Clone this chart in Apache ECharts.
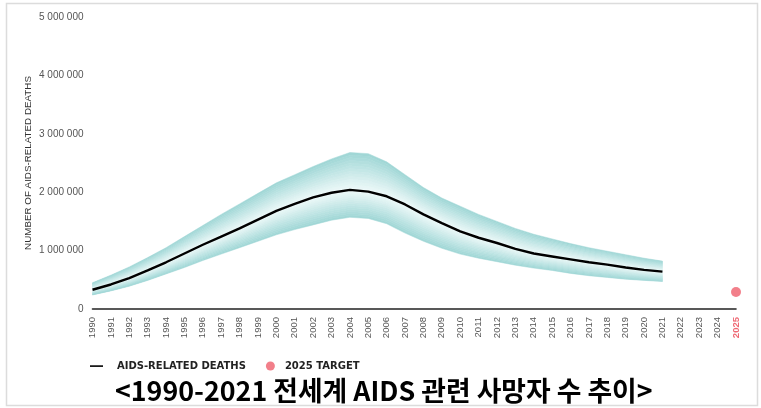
<!DOCTYPE html>
<html>
<head>
<meta charset="utf-8">
<script src="https://cdn.jsdelivr.net/npm/echarts@6/dist/echarts.min.js"></script>
<style>
  html, body { margin: 0; padding: 0; background: #fff; }
  #chart { width: 761px; height: 408px; }
</style>
</head>
<body>
<div id="chart"></div>
<script>
// years on the x axis (1990 - 2025)
const years = []
for (let y = 1990; y <= 2025; y++) years.push(String(y))

// AIDS-related deaths 1990-2021, central estimate
const deaths = [
  330000, 420000, 530000, 660000, 800000, 950000, 1100000, 1240000,
  1380000, 1530000, 1680000, 1800000, 1910000, 1990000, 2040000, 2010000,
  1930000, 1790000, 1620000, 1470000, 1330000, 1220000, 1130000, 1030000,
  950000, 900000, 850000, 800000, 760000, 710000, 670000, 640000
]
// uncertainty bounds
const upper = [
  450000, 580000, 720000, 880000, 1050000, 1240000, 1430000, 1620000,
  1800000, 1980000, 2160000, 2300000, 2440000, 2570000, 2680000, 2660000,
  2520000, 2300000, 2080000, 1900000, 1760000, 1620000, 1500000, 1380000,
  1280000, 1200000, 1120000, 1050000, 990000, 930000, 870000, 820000
]
const lower = [
  240000, 310000, 390000, 490000, 600000, 710000, 830000, 940000,
  1050000, 1160000, 1270000, 1360000, 1440000, 1520000, 1570000, 1550000,
  1460000, 1300000, 1160000, 1040000, 940000, 870000, 810000, 750000,
  700000, 660000, 610000, 570000, 540000, 510000, 490000, 470000
]
const target2025 = 290000
const yTicks = [0, 1000000, 2000000, 3000000, 4000000, 5000000]

// band shading: teal at the bounds, almost white along the estimate
const TEAL = [158, 214, 213]
const PALE = [240, 250, 250]
const STEPS = 14

const mix = (t) => {
  const c = TEAL.map((v, k) => Math.round(v + (PALE[k] - v) * t))
  return 'rgb(' + c.join(',') + ')'
}

const chart = echarts.init(document.getElementById('chart'))

// draws the band as nested strips between the estimate and each bound
const renderBand = (params, api) => {
  const children = []
  const strip = (bound, a, b) => {
    const pts = []
    for (let i = 0; i < deaths.length; i++) {
      pts.push(api.coord([i, deaths[i] + (bound[i] - deaths[i]) * a]))
    }
    for (let i = deaths.length - 1; i >= 0; i--) {
      pts.push(api.coord([i, deaths[i] + (bound[i] - deaths[i]) * b]))
    }
    return pts
  }
  for (let s = 0; s < STEPS; s++) {
    const a = s / STEPS
    const b = (s + 1) / STEPS
    const col = mix(1 - (s + 0.5) / STEPS)
    children.push({ type: 'polygon', shape: { points: strip(upper, a, b) }, style: { fill: col, stroke: col, lineWidth: 0.5 } })
    children.push({ type: 'polygon', shape: { points: strip(lower, a, b) }, style: { fill: col, stroke: col, lineWidth: 0.5 } })
  }
  return { type: 'group', children }
}

const option = {
  animation: false,
  backgroundColor: '#fff',
  graphic: [{
    type: 'rect',
    shape: { x: 6.5, y: 3.5, width: 751, height: 402 },
    style: { fill: 'none', stroke: '#dcdcdc', lineWidth: 1.5 },
    z: 100
  }],
  title: {
    text: '<1990-2021 전세계 AIDS 관련 사망자 수 추이>',
    left: 115,
    top: 377,
    padding: 0,
    textStyle: {
      fontFamily: 'Noto Sans CJK KR',
      fontSize: 26.8,
      fontWeight: 'bold',
      color: '#000'
    }
  },
  legend: {
    left: 90,
    top: 361,
    itemWidth: 13,
    itemHeight: 9,
    itemGap: 20,
    padding: 0,
    selectedMode: false,
    textStyle: {
      fontFamily: 'DejaVu Sans',
      fontSize: 10,
      fontWeight: 'bold',
      color: '#222'
    },
    data: [
      {
        name: 'AIDS-RELATED DEATHS',
        icon: 'path://M0,0 M0,3.8 L13,3.8 L13,5.4 L0,5.4 Z M13,9',
        textStyle: { padding: [0, 0, 0, 9] }
      },
      {
        name: '2025 TARGET',
        icon: 'circle',
        textStyle: { padding: [0, 0, 0, 3] }
      }
    ]
  },
  grid: {
    left: 92.5,
    right: 25,
    top: 17,
    bottom: 99,
    containLabel: false
  },
  xAxis: {
    type: 'category',
    data: years,
    boundaryGap: false,
    axisLine: { lineStyle: { color: '#222', width: 1.6 } },
    axisTick: { show: false },
    splitLine: { show: false },
    axisLabel: {
      interval: 0,
      rotate: 90,
      margin: 8,
      fontFamily: 'Liberation Sans',
      fontSize: 9.5,
      color: '#555',
      formatter: (v) => v === '2025' ? '{t|' + v + '}' : v,
      rich: {
        t: { color: '#ef6a75', fontWeight: 'bold', fontSize: 9.5, fontFamily: 'Liberation Sans' }
      }
    }
  },
  yAxis: {
    type: 'value',
    min: 0,
    max: 5000000,
    interval: 1000000,
    name: 'NUMBER OF AIDS-RELATED DEATHS',
    nameLocation: 'middle',
    nameRotate: 90,
    nameGap: 59,
    nameMoveOverlap: false,
    nameTextStyle: {
      fontFamily: 'Liberation Sans',
      fontSize: 9.8,
      color: '#333'
    },
    axisLine: { show: false },
    axisTick: { show: false },
    splitLine: { show: false },
    axisLabel: {
      margin: 9,
      fontFamily: 'Liberation Sans',
      fontSize: 10,
      color: '#555',
      customValues: yTicks,
      formatter: (v) => String(v).replace(/\B(?=(\d{3})+(?!\d))/g, ' ')
    }
  },
  series: [
    {
      name: 'band',
      type: 'custom',
      renderItem: renderBand,
      data: [[0, upper[0]]],
      clip: false,
      silent: true,
      z: 1
    },
    {
      name: 'AIDS-RELATED DEATHS',
      type: 'line',
      data: deaths,
      smooth: false,
      symbol: 'none',
      lineStyle: { color: '#000', width: 2.4, join: 'round' },
      itemStyle: { color: '#000' },
      z: 3
    },
    {
      name: '2025 TARGET',
      type: 'scatter',
      data: [['2025', target2025]],
      symbolSize: 10,
      itemStyle: { color: '#ef5f6d' },
      z: 4
    }
  ]
}

chart.setOption(option)
</script>
</body>
</html>
